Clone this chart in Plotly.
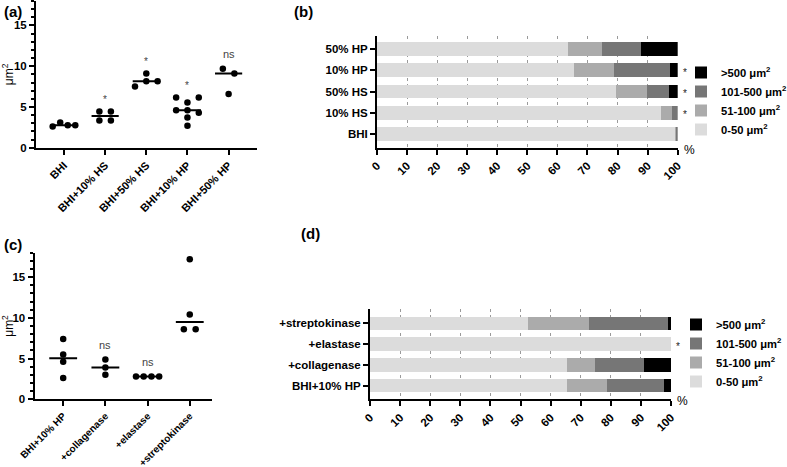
import numpy as np
import plotly.graph_objects as go

# ---------------- data ----------------
# (a) scatter: cell area (µm²)
cats_a = ["BHI", "BHI+10% HS", "BHI+50% HS", "BHI+10% HP", "BHI+50% HP"]
vals_a = [
    [2.6, 3.1, 2.75, 2.75],
    [4.45, 4.45, 3.35, 3.35],
    [9.1, 7.5, 8.15, 8.15],
    [6.15, 5.55, 6.15, 4.6, 4.6, 4.3, 3.7, 2.7],
    [9.7, 9.1, 6.6],
]
sig_a = ["", "*", "*", "*", "ns"]

# (c) scatter
cats_c = ["BHI+10% HP", "+collagenase", "+elastase", "+streptokinase"]
vals_c = [
    [7.4, 5.5, 4.6, 2.6],
    [4.9, 3.9, 3.0],
    [2.8, 2.8, 2.8, 2.8],
    [17.2, 10.4, 8.6, 8.6],
]
sig_c = ["", "ns", "ns", "ns"]

# size classes
size_labels = ["0-50 μm<sup>2</sup>", "51-100 μm<sup>2</sup>",
               "101-500 μm<sup>2</sup>", "&gt;500 μm<sup>2</sup>"]
size_colors = ["#dcdcdc", "#ababab", "#767676", "#000000"]

# (b) stacked percentages
cats_b = ["BHI", "10% HS", "50% HS", "10% HP", "50% HP"]
b_0_50 = [99.4, 94.6, 79.4, 65.6, 63.4]
b_51_100 = [0.3, 3.6, 10.5, 13.1, 11.5]
b_101_500 = [0.3, 1.8, 7.3, 18.9, 12.9]
b_gt500 = [0.0, 0.0, 2.8, 2.4, 12.2]
sig_b = ["", "*", "*", "*", ""]

# (d) stacked percentages
cats_d = ["BHI+10% HP", "+collagenase", "+elastase", "+streptokinase"]
d_0_50 = [65.6, 65.3, 100.0, 52.4]
d_51_100 = [13.1, 9.6, 0.0, 20.5]
d_101_500 = [18.9, 16.1, 0.0, 26.2]
d_gt500 = [2.4, 9.0, 0.0, 0.9]
sig_d = ["", "", "*", ""]

# ---------------- helpers ----------------
FAM = "Liberation Sans, Arial, sans-serif"


def bold(size):
    return dict(family=FAM, size=size, color="black", weight="bold")


def swarm(values, thresh=0.74):
    """Simple row-based beeswarm offsets (category units)."""
    order = sorted(range(len(values)), key=lambda i: (-values[i], i))
    rows = []
    for i in order:
        if rows and values[rows[-1][0]] - values[i] < thresh:
            rows[-1].append(i)
        else:
            rows.append([i])
    off = [0.0] * len(values)
    for r in rows:
        r = sorted(r)
        n = len(r)
        s = min(0.28, 0.55 / (n - 1)) if n > 1 else 0.0
        for k, i in enumerate(r):
            off[i] = (k - (n - 1) / 2) * s
    return off


fig = go.Figure()


def add_scatter_panel(cats, vals, sig, xa, ya):
    xs, ys, mx, my = [], [], [], []
    for ci, v in enumerate(vals):
        off = swarm(v)
        xs += [ci + o for o in off]
        ys += list(v)
        med = float(np.median(v))
        mx += [ci - 0.33, ci + 0.33, None]
        my += [med, med, None]
    fig.add_trace(go.Scatter(x=mx, y=my, mode="lines", line=dict(color="black", width=2),
                             xaxis=xa, yaxis=ya, showlegend=False, hoverinfo="skip"))
    fig.add_trace(go.Scatter(x=xs, y=ys, mode="markers",
                             marker=dict(color="black", size=6.5, line=dict(width=0)),
                             xaxis=xa, yaxis=ya, showlegend=False))
    for ci, s in enumerate(sig):
        if s:
            fig.add_annotation(x=ci, y=max(vals[ci]) + 1.8, xref=xa, yref=ya, text=s,
                               showarrow=False, yanchor="middle",
                               yshift=-3 if s == "*" else 0,
                               font=dict(family=FAM, size=11 if s == "ns" else 10, color="#444444"))


def add_bar_panel(cats, series, sig, xa, ya, legend):
    for lab, col, vals in zip(size_labels, size_colors, series):
        fig.add_trace(go.Bar(y=cats, x=vals, orientation="h", name=lab,
                             marker=dict(color=col, line=dict(width=0)),
                             xaxis=xa, yaxis=ya, legend=legend))
    for ci, s in enumerate(sig):
        if s:
            fig.add_annotation(x=100, y=cats[ci], xref=xa, yref=ya, text=s, showarrow=False,
                               xanchor="left", xshift=3, yshift=-2,
                               font=dict(family=FAM, size=10, color="#222222"))
    fig.add_annotation(x=1, y=0, xref=xa + " domain", yref=ya + " domain", text="%",
                       showarrow=False, xanchor="left", yanchor="middle", xshift=4, yshift=-2,
                       font=dict(family=FAM, size=12, color="black"))


add_scatter_panel(cats_a, vals_a, sig_a, "x", "y")
add_bar_panel(cats_b, [b_0_50, b_51_100, b_101_500, b_gt500], sig_b, "x2", "y2", "legend")
add_scatter_panel(cats_c, vals_c, sig_c, "x3", "y3")
add_bar_panel(cats_d, [d_0_50, d_51_100, d_101_500, d_gt500], sig_d, "x4", "y4", "legend2")

W, H = 787, 467


def px_x(a, b):
    return [a / W, b / W]


def px_y(top, bottom):
    return [1 - bottom / H, 1 - top / H]


axis_common = dict(showline=True, linecolor="black", linewidth=2, ticks="outside",
                   tickcolor="black", tickwidth=2, ticklen=5, zeroline=False,
                   showgrid=False, tickfont=bold(11.5), automargin=False)

scatter_y = dict(axis_common, range=[0, 18], tickvals=[0, 5, 10, 15],
                 minor=dict(dtick=1, ticks="outside", ticklen=3, tickwidth=1.5, tickcolor="black"),
                 title=dict(text="μm<sup>2</sup>", standoff=3,
                            font=dict(family=FAM, size=12, color="black")))

bar_x = dict(axis_common, range=[0, 100], dtick=10, tickangle=-45,
             showgrid=True, gridcolor="#9a9a9a", gridwidth=1, griddash="3px,3px")

fig.update_layout(
    template="none",
    width=W, height=H, margin=dict(l=0, r=0, t=0, b=0, autoexpand=False),
    paper_bgcolor="white", plot_bgcolor="white",
    font=dict(family=FAM, size=12, color="black"),
    barmode="stack", bargap=0.354,
    xaxis=dict(axis_common, domain=px_x(36, 257), range=[-0.68, 4.69],
               tickvals=list(range(len(cats_a))), ticktext=cats_a, tickangle=-45, anchor="y",
               tickfont=bold(11)),
    yaxis=dict(scatter_y, domain=px_y(1, 147.7), anchor="x"),
    xaxis2=dict(bar_x, domain=px_x(377, 677.7), anchor="y2"),
    yaxis2=dict(axis_common, domain=px_y(36, 147.7), range=[-0.65, 4.62], anchor="x2",
                type="category"),
    xaxis3=dict(axis_common, domain=px_x(34.5, 211.7), range=[-0.68, 3.52],
                tickvals=list(range(len(cats_c))), ticktext=cats_c, tickangle=-45, anchor="y3",
                tickfont=bold(10)),
    yaxis3=dict(scatter_y, domain=px_y(252.7, 399.3), anchor="x3"),
    xaxis4=dict(bar_x, domain=px_x(370, 671), anchor="y4"),
    yaxis4=dict(axis_common, domain=px_y(309.3, 399.3), range=[-0.65, 3.67], anchor="x4",
                type="category"),
    legend=dict(x=681 / W, y=1 - 58 / H, xanchor="left", yanchor="top",
                traceorder="reversed", bgcolor="rgba(0,0,0,0)", borderwidth=0,
                font=bold(11.2)),
    legend2=dict(x=676 / W, y=1 - 310 / H, xanchor="left", yanchor="top",
                 traceorder="reversed", bgcolor="rgba(0,0,0,0)", borderwidth=0,
                 font=bold(11.2), tracegroupgap=0),
)

for txt, x, y in [("(a)", 2, 12), ("(b)", 292, 12), ("(c)", 2, 245), ("(d)", 299, 233)]:
    fig.add_annotation(x=x / W, y=1 - y / H, xref="paper", yref="paper", text=txt,
                       showarrow=False, xanchor="left", yanchor="middle",
                       font=dict(family=FAM, size=15, color="black", weight="bold"))

fig.write_html("out.html", config={"displayModeBar": False},
               post_script="document.body.style.margin='0';document.body.style.padding='0';")
